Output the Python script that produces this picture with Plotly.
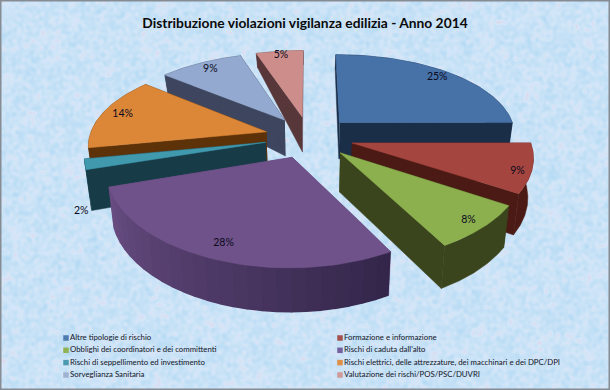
import numpy as np
import plotly.graph_objects as go

title = "Distribuzione violazioni vigilanza edilizia - Anno 2014"
categories = ["Altre tipologie di rischio", "Formazione e informazione",
              "Obblighi dei coordinatori e dei committenti", "Rischi di caduta dall'alto",
              "Rischi di seppellimento ed investimento",
              "Rischi elettrici, delle attrezzature, dei macchinari e dei DPC/DPI",
              "Sorveglianza Sanitaria", "Valutazione dei rischi/POS/PSC/DUVRI"]
values = [25, 9, 8, 28, 2, 14, 9, 5]
top_colors = ["#4672a8", "#a5453f", "#8db04e", "#6f5289", "#4199ae", "#dc8738", "#93a9cf", "#cd8e8b"]
wall_left = ["#1b2e48", "#4b1a14", "#3a451d", "#6a4e84", "#173c48", "#5e3208", "#3d465e", "#57373a"]
wall_right = ["#1b2e48", "#4b1a14", "#3a451d", "#33264a", "#173c48", "#5e3208", "#3d465e", "#57373a"]
legend_colors = ["#4f7cb0", "#a5504c", "#8fb253", "#7560a0", "#4a9bb0", "#dd8f45", "#a0b2d2", "#d09a98"]
label_radius = [0.89, 0.92, 0.91, 0.87, 1.02, 0.88, 0.87, 0.93]
label_drop = [0, 5, 0, 0, 46, 0, 0, 0]
paint_order = [6, 7, 0, 5, 4, 1, 2, 3]

cx, cy, R, Ry, px, py, e = 309, 137, 177, 84, 0.14, 0.17, 0.25

def depth(F):
    return np.interp(F, [-1.2, -0.2, 0.3, 1.3], [14, 36, 40, 44])

def disc(theta, mid, r=1.0):
    X = r * np.sin(theta) + e * np.sin(mid)
    F = -r * np.cos(theta) - e * np.cos(mid)
    return X, F

def top(X, F):
    return cx + R * X / (1 - px * F), cy + Ry * F / (1 - py * F)

def bottom(X, F):
    x, y = top(X, F)
    return cx + (x - cx) * 0.975, y + depth(F)

def lerp(a, b, t):
    ca = [int(a[i:i + 2], 16) for i in (1, 3, 5)]
    cb = [int(b[i:i + 2], 16) for i in (1, 3, 5)]
    return "rgb(%d,%d,%d)" % tuple(round(u + (v - u) * t) for u, v in zip(ca, cb))

def poly(fig, xs, ys, color, lw=0.5):
    fig.add_trace(go.Scatter(x=np.asarray(xs), y=np.asarray(ys), mode="lines", fill="toself",
                             fillcolor=color, line=dict(color=color, width=lw),
                             showlegend=False, hoverinfo="skip"))

fig = go.Figure()

# mottled paper background (many crossing waves, no random numbers)
gx = np.linspace(0, 610, 305)
gy = np.linspace(0, 390, 195)
GX, GY = np.meshgrid(gx, gy)
tex = np.zeros_like(GX)
for k in range(1, 61):
    ang = np.radians(137.5 * k)
    freq = 0.06 + 0.018 * k
    tex += np.sin(freq * (GX * np.cos(ang) + GY * np.sin(ang)) + 2.4 * k)
fig.add_trace(go.Heatmap(x=gx, y=gy, z=tex, zsmooth="best", showscale=False, hoverinfo="skip",
                         colorscale=[[0, "#aed8f3"], [0.4, "#c6e1f6"], [0.6, "#d4e6f8"], [0.8, "#dbdcf0"], [1, "#e6cce6"]]))

edges = np.concatenate([[0], np.cumsum(values)]) / sum(values) * 2 * np.pi
mids = (edges[:-1] + edges[1:]) / 2

for i in paint_order:
    a, b, m = edges[i], edges[i + 1], mids[i]
    ax, af = disc(0, m, 0)
    for t in (a, b):
        ex, ef = disc(t, m)
        fr = np.linspace(0, 1, 12)
        X = ax + (ex - ax) * fr
        F = af + (ef - af) * fr
        tx, ty = top(X, F)
        bx, by = bottom(X, F)
        poly(fig, np.r_[tx, bx[::-1]], np.r_[ty, by[::-1]], wall_left[i])
    if wall_left[i] == wall_right[i]:
        t = np.linspace(a, b, 60)
        X, F = disc(t, m)
        tx, ty = top(X, F)
        bx, by = bottom(X, F)
        poly(fig, np.r_[tx, bx[::-1]], np.r_[ty, by[::-1]], wall_left[i])
    else:
        n = max(2, int((b - a) / np.radians(4)))
        th = np.linspace(a, b, n + 1)
        for k in range(n):
            t = np.linspace(th[k], th[k + 1], 3)
            X, F = disc(t, m)
            tx, ty = top(X, F)
            bx, by = bottom(X, F)
            frac = 1 - (th[k] - a) / (b - a)
            poly(fig, np.r_[tx, bx[::-1]], np.r_[ty, by[::-1]], lerp(wall_left[i], wall_right[i], frac), lw=1.5)
    t = np.linspace(a, b, 60)
    X, F = disc(t, m)
    tx, ty = top(X, F)
    x0, y0 = top(ax, af)
    poly(fig, np.r_[x0, tx, x0], np.r_[y0, ty, y0], top_colors[i])

lx, ly = [], []
for m, r, d in zip(mids, label_radius, label_drop):
    X, F = disc(m, m, r)
    x, y = top(X, F)
    lx.append(x); ly.append(y + d)
fig.add_trace(go.Scatter(x=lx, y=ly, mode="text", text=["%d%%" % v for v in values],
                         textfont=dict(family="Lato", size=10.5, color="#0a0a20"),
                         showlegend=False, hoverinfo="skip"))

# legend: two columns, filled row by row
col_x = [66, 340]
row_y = [338, 350.3, 362.6, 375]
leg_x = [col_x[k % 2] for k in range(len(categories))]
leg_y = [row_y[k // 2] for k in range(len(categories))]
fig.add_trace(go.Scatter(x=leg_x, y=leg_y, mode="markers", showlegend=False, hoverinfo="skip",
                         marker=dict(symbol="square", size=5.5, color=legend_colors)))
fig.add_trace(go.Scatter(x=[v + 4 for v in leg_x], y=leg_y, mode="text", text=categories, textposition="middle right",
                         textfont=dict(family="Lato", size=7.8, color="#14141e"), showlegend=False, hoverinfo="skip"))

fig.update_layout(
    width=610, height=390, margin=dict(l=0, r=0, t=0, b=0),
    title=dict(text="<b>%s</b>" % title, x=0.5, xanchor="center", y=0.94, yanchor="middle", yref="container",
               font=dict(family="Lato", size=13.8, color="#0a0a0a")),
    xaxis=dict(range=[0, 610], visible=False, fixedrange=True),
    yaxis=dict(range=[390, 0], visible=False, fixedrange=True),
    showlegend=False, plot_bgcolor="#cfe6f8", paper_bgcolor="#cfe6f8",
    shapes=[
        dict(type="rect", x0=38, x1=585, y0=332, y1=387, fillcolor="rgba(255,255,255,0.3)", line=dict(width=0), layer="between"),
        dict(type="rect", x0=0, x1=610, y0=0, y1=390, fillcolor="rgba(0,0,0,0)", line=dict(color="#858c94", width=3), layer="above"),
    ],
)
fig.write_html("out.html", config={"displayModeBar": False},
               post_script="document.body.style.margin='0';document.body.style.overflow='hidden';")
